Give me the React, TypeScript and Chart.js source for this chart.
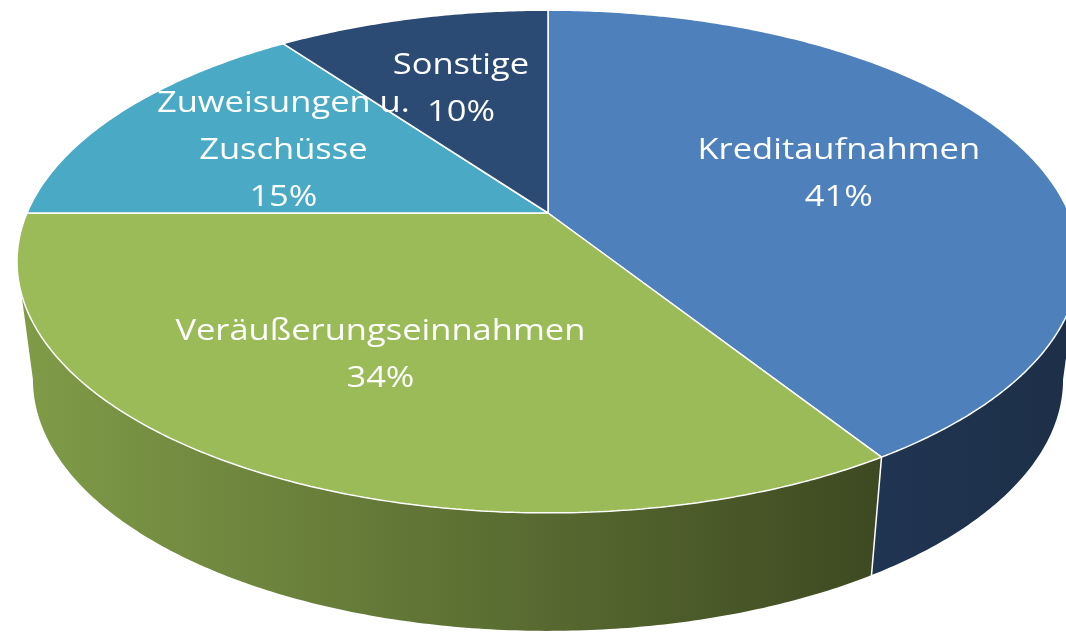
import React, { useEffect, useRef } from 'react';
import { Chart, registerables } from 'chart.js';

Chart.register(...registerables);

// ---- data ----
const categories: (string | string[])[] = [
  'Kreditaufnahmen',
  'Veräußerungseinnahmen',
  ['Zuweisungen u.', 'Zuschüsse'],
  'Sonstige',
];
const shares: number[] = [41, 34, 15, 10];

// ---- styles ----
const topColors = ['#4e80bc', '#9bbb59', '#4aaac5', '#2b4b74'];
const sideColors: [string, string][] = [
  ['#203552', '#1d2f47'],
  ['#809c48', '#3d4921'],
  ['#3a8aa0', '#2a6a7d'],
  ['#22395a', '#1a2c45'],
];

const W = 1066;
const H = 634;
const VIEW = { cx: 548, cy: 213, ax: 521, ay: 242, beta: 0.193, depth: 118, shrink: 0.97 };
const LABEL = { radius: 0.6, font: '30px "Open Sans"', stretch: 1.15, lineHeight: 47 };
const TAU = Math.PI * 2;

type Pt = { x: number; y: number };

function makeProjector(arc: any) {
  const ox = arc.x, oy = arc.y, R = arc.outerRadius;
  return (px: number, py: number): Pt => {
    const m = (px - ox) / R;
    const n = (py - oy) / R;
    const w = 1 - VIEW.beta * n;
    return { x: VIEW.cx + (VIEW.ax * m) / w, y: VIEW.cy + (VIEW.ay * n) / w };
  };
}

function makeProxy(ctx: CanvasRenderingContext2D, proj: (x: number, y: number) => Pt) {
  return new Proxy(ctx as any, {
    get(t: any, p: any) {
      if (p === 'arc') {
        return (x: number, y: number, r: number, a0: number, a1: number, ccw?: boolean) => {
          if (![x, y, r, a0, a1].every(Number.isFinite)) return;
          if (r <= 0) {
            const q = proj(x, y);
            t.lineTo(q.x, q.y);
            return;
          }
          let s = a1 - a0;
          if (!ccw) {
            if (s < 0) s = ((s % TAU) + TAU) % TAU;
            if (s > TAU) s = TAU;
          } else {
            if (s > 0) s = -((((-s) % TAU) + TAU) % TAU);
            if (s < -TAU) s = -TAU;
          }
          const steps = Math.max(2, Math.ceil(Math.abs(s) / 0.01));
          for (let i = 0; i <= steps; i++) {
            const a = a0 + (s * i) / steps;
            const q = proj(x + r * Math.cos(a), y + r * Math.sin(a));
            t.lineTo(q.x, q.y);
          }
        };
      }
      if (p === 'lineTo' || p === 'moveTo') {
        return (x: number, y: number) => {
          const q = proj(x, y);
          t[p](q.x, q.y);
        };
      }
      const v = t[p];
      return typeof v === 'function' ? v.bind(t) : v;
    },
    set(t: any, p: any, v: any) {
      t[p] = v;
      return true;
    },
  });
}

function drawSides(ctx: CanvasRenderingContext2D, arcs: any[], proj: (x: number, y: number) => Pt) {
  const ox = arcs[0].x, oy = arcs[0].y, R = arcs[0].outerRadius;
  const vis0 = Math.asin(VIEW.beta);
  const vis1 = Math.PI - vis0;
  const rim = (a: number) => proj(ox + R * Math.cos(a), oy + R * Math.sin(a));
  const low = (p: Pt): Pt => ({ x: VIEW.cx + VIEW.shrink * (p.x - VIEW.cx), y: p.y + VIEW.depth });
  const edges: number[] = [];
  arcs.forEach((arc, i) => {
    const a0 = Math.max(arc.startAngle, vis0);
    const a1 = Math.min(arc.endAngle, vis1);
    if (a1 <= a0) return;
    if (arc.startAngle > vis0 && arc.startAngle < vis1) edges.push(arc.startAngle);
    const steps = Math.max(8, Math.ceil((a1 - a0) / 0.01));
    const top: Pt[] = [];
    for (let k = 0; k <= steps; k++) top.push(rim(a0 + ((a1 - a0) * k) / steps));
    const bottom = top.map(low).reverse();
    const pts = top.concat(bottom);
    let minX = Infinity, maxX = -Infinity;
    pts.forEach((p) => { minX = Math.min(minX, p.x); maxX = Math.max(maxX, p.x); });
    const g = ctx.createLinearGradient(minX, 0, maxX, 0);
    g.addColorStop(0, sideColors[i][0]);
    g.addColorStop(1, sideColors[i][1]);
    ctx.beginPath();
    pts.forEach((p, k) => (k === 0 ? ctx.moveTo(p.x, p.y) : ctx.lineTo(p.x, p.y)));
    ctx.closePath();
    ctx.fillStyle = g;
    ctx.fill();
  });
  ctx.strokeStyle = '#ffffff';
  ctx.lineWidth = 1.5;
  edges.forEach((a) => {
    const p = rim(a);
    const q = low(p);
    ctx.beginPath();
    ctx.moveTo(p.x, p.y);
    ctx.lineTo(q.x, q.y);
    ctx.stroke();
  });
}

const pie3d = {
  id: 'pie3d',
  beforeDatasetDraw(chart: any, args: any) {
    const arcs = args.meta.data;
    if (!arcs.length) return false;
    const ctx: CanvasRenderingContext2D = chart.ctx;
    const proj = makeProjector(arcs[0]);
    ctx.save();
    drawSides(ctx, arcs, proj);
    ctx.restore();
    const proxy = makeProxy(ctx, proj);
    arcs.forEach((arc: any) => arc.draw(proxy));
    return false;
  },
  afterDatasetsDraw(chart: any) {
    const arcs = chart.getDatasetMeta(0).data;
    if (!arcs.length) return;
    const ctx: CanvasRenderingContext2D = chart.ctx;
    const proj = makeProjector(arcs[0]);
    const total = shares.reduce((a, b) => a + b, 0);
    ctx.save();
    ctx.fillStyle = '#ffffff';
    ctx.font = LABEL.font;
    ctx.textAlign = 'center';
    ctx.textBaseline = 'middle';
    arcs.forEach((arc: any, i: number) => {
      const mid = (arc.startAngle + arc.endAngle) / 2;
      const p = proj(
        arc.x + LABEL.radius * arc.outerRadius * Math.cos(mid),
        arc.y + LABEL.radius * arc.outerRadius * Math.sin(mid)
      );
      const cat = categories[i];
      const lines = [...(Array.isArray(cat) ? cat : [cat]), Math.round((shares[i] / total) * 100) + '%'];
      const y0 = p.y - ((lines.length - 1) * LABEL.lineHeight) / 2;
      lines.forEach((t, k) => {
        ctx.save();
        ctx.translate(p.x, y0 + k * LABEL.lineHeight);
        ctx.scale(LABEL.stretch, 1);
        ctx.fillText(t, 0, 0);
        ctx.restore();
      });
    });
    ctx.restore();
  },
};

export default function App() {
  const ref = useRef<HTMLCanvasElement>(null);
  useEffect(() => {
    const canvas = ref.current;
    if (!canvas) return;
    const chart = new Chart(canvas, {
      type: 'pie',
      data: {
        labels: categories as any,
        datasets: [
          {
            data: shares,
            backgroundColor: topColors,
            borderColor: '#ffffff',
            borderWidth: 1.5,
          },
        ],
      },
      options: {
        responsive: false,
        animation: false,
        devicePixelRatio: 1,
        events: [],
        layout: { padding: 0 },
        plugins: { legend: { display: false }, tooltip: { enabled: false } },
      },
      plugins: [pie3d as any],
    });
    return () => chart.destroy();
  }, []);
  return (
    <div style={{ position: 'fixed', left: 0, top: 0, width: W, height: H, background: '#ffffff' }}>
      <canvas ref={ref} width={W} height={H} style={{ display: 'block' }} />
    </div>
  );
}
